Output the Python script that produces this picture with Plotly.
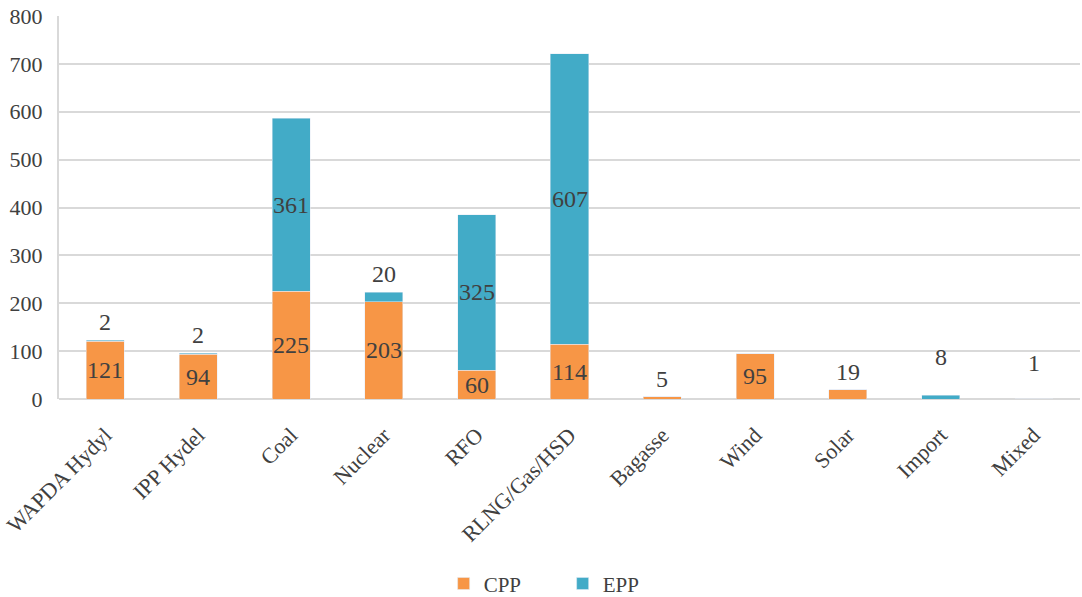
import plotly.graph_objects as go

categories = ["WAPDA Hydyl", "IPP Hydel", "Coal", "Nuclear", "RFO", "RLNG/Gas/HSD",
              "Bagasse", "Wind", "Solar", "Import", "Mixed"]
cpp = [121, 94, 225, 203, 60, 114, 5, 95, 19, 0, 0]
epp = [2, 2, 361, 20, 325, 607, 0, 0, 0, 8, 1]
y_ticks = [0, 100, 200, 300, 400, 500, 600, 700, 800]

ORANGE = "#F79646"
TEAL = "#42ABC7"
TEXT = "#404040"
FONT = "Liberation Serif"

# extra lift (px) for a few outside labels that sit higher above their bars
extra_lift = {"Import": 20, "Mixed": 18}

fig = go.Figure()
fig.add_trace(go.Bar(x=categories, y=cpp, name="CPP", marker_color=ORANGE))
fig.add_trace(go.Bar(x=categories, y=epp, name="EPP", marker_color=TEAL))

# value labels: centred in the segment when it is tall enough, otherwise above the stack
annotations = []
for i, cat in enumerate(categories):
    base = 0
    total = cpp[i] + epp[i]
    for val in (cpp[i], epp[i]):
        if val > 0:
            if val >= 50:
                annotations.append(dict(x=cat, y=base + val / 2, text=str(val),
                                        showarrow=False, yanchor="middle",
                                        font=dict(size=24, color=TEXT, family=FONT)))
            else:
                annotations.append(dict(x=cat, y=total, text=str(val),
                                        showarrow=False, yanchor="middle",
                                        yshift=18 + extra_lift.get(cat, 0),
                                        font=dict(size=24, color=TEXT, family=FONT)))
        base += val

fig.update_layout(
    barmode="stack",
    bargap=0.59,
    width=1082, height=597,
    margin=dict(l=59, r=2, t=16, b=198),
    plot_bgcolor="white", paper_bgcolor="white",
    font=dict(family=FONT, color=TEXT, size=21),
    annotations=annotations,
    legend=dict(orientation="h", xref="container", x=0.52, xanchor="center",
                yref="container", y=0.022, yanchor="middle",
                font=dict(size=21, color=TEXT), traceorder="normal",
                entrywidth=74, entrywidthmode="pixels"),
    xaxis=dict(tickangle=-45, tickfont=dict(size=22, color=TEXT), showline=False,
               ticks="", ticklabelstandoff=18, automargin=False),
    yaxis=dict(range=[0, 800], tickvals=y_ticks, tickfont=dict(size=22, color=TEXT),
               gridcolor="#D9D9D9", gridwidth=2, showline=True, linecolor="#D9D9D9",
               linewidth=2, zeroline=True, zerolinecolor="#D9D9D9", zerolinewidth=2,
               ticks="", ticklabelstandoff=10, automargin=False),
)

fig.write_html("out.html")
